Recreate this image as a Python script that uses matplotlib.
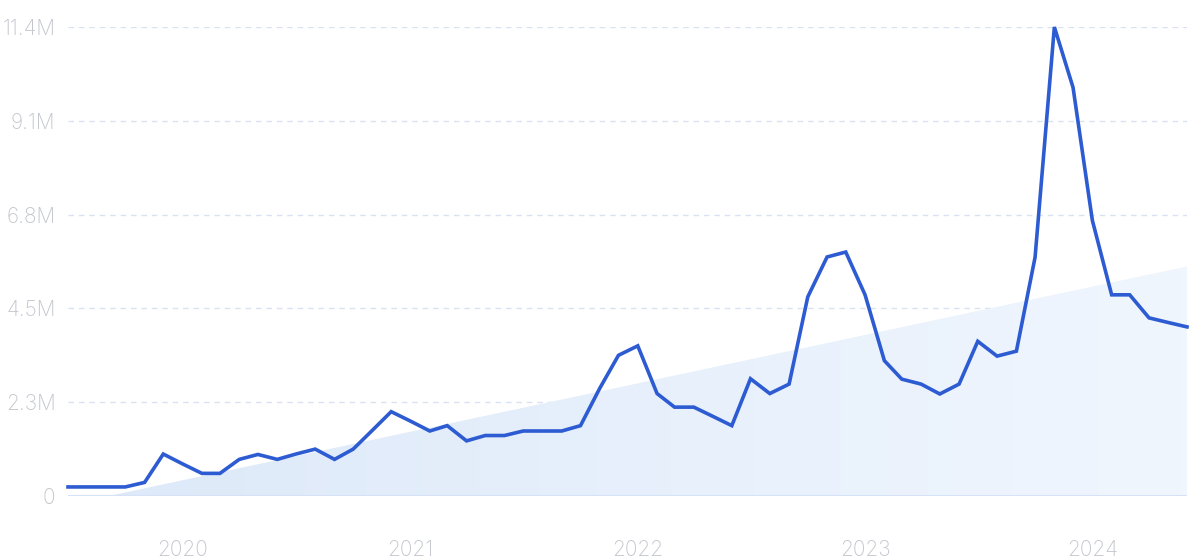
import numpy as np
import pandas as pd
import matplotlib
matplotlib.use("Agg")
import matplotlib.pyplot as plt
import matplotlib.dates as mdates
from matplotlib.colors import LinearSegmentedColormap

# ---- data (monthly, Jul 2019 - Jun 2024), values in millions ----
months = pd.date_range("2019-07-01", periods=60, freq="MS")
values_m = [
    0.22, 0.22, 0.22, 0.22, 0.33, 1.02, 0.78, 0.55, 0.55, 0.89, 1.01, 0.89,
    1.02, 1.14, 0.89, 1.14, 1.60, 2.05, 1.82, 1.58, 1.71, 1.34, 1.47, 1.47,
    1.58, 1.58, 1.58, 1.71, 2.62, 3.42, 3.65, 2.49, 2.16, 2.16, 1.94, 1.71,
    2.85, 2.49, 2.72, 4.84, 5.81, 5.93, 4.89, 3.29, 2.84, 2.72, 2.48, 2.72,
    3.76, 3.40, 3.52, 5.80, 11.40, 9.93, 6.70, 4.89, 4.89, 4.33, 4.22, 4.11,
]
trend_start_m = -0.21   # trend level at first month
trend_end_m = 5.58      # trend level at last month
y_max_m = 11.4
y_tick_labels = ["0", "2.3M", "4.5M", "6.8M", "9.1M", "11.4M"]
x_tick_labels = ["2020", "2021", "2022", "2023", "2024"]

# ---- figure ----
plt.rcParams["font.family"] = ["Inter", "DejaVu Sans"]
fig = plt.figure(figsize=(12, 5.6), dpi=100)
ax = fig.add_axes([68 / 1200, 1 - 496 / 560, (1187 - 68) / 1200, (496 - 27) / 560])

x = mdates.date2num(months)
y = np.array(values_m)

# trend area with horizontal gradient
tx = np.array([x[0], x[-1]])
ty = np.array([trend_start_m, trend_end_m])
poly = ax.fill_between(tx, 0, ty, color="none", linewidth=0)
cmap = LinearSegmentedColormap.from_list("g", ["#dde9f9", "#f0f6fe"])
grad = np.linspace(0, 1, 256).reshape(1, -1)
im = ax.imshow(grad, extent=[x[0], x[-1], 0, y_max_m], aspect="auto",
               cmap=cmap, origin="lower", zorder=1, interpolation="bilinear")
im.set_clip_path(poly.get_paths()[0], transform=ax.transData)

# grid lines
yticks = np.linspace(0, y_max_m, 6)
for yt in yticks[1:]:
    ax.axhline(yt, color="#d9e2f0", linewidth=1.0, linestyle=(0, (4, 3.5)), zorder=0.5)
ax.axhline(0, color="#d6e2f5", linewidth=1.5, zorder=1.5)

# main line
ax.plot(x, y, color="#2d5bd1", linewidth=2.6, solid_joinstyle="miter",
        zorder=3, clip_on=False)

ax.set_xlim(x[0], x[-1])
ax.set_ylim(0, y_max_m)
ax.set_yticks(yticks)
ax.set_yticklabels(y_tick_labels)
jan_ticks = [mdates.date2num(pd.Timestamp(f"{yr}-01-01")) for yr in x_tick_labels]
ax.set_xticks(jan_ticks)
ax.set_xticklabels(x_tick_labels)

for s in ax.spines.values():
    s.set_visible(False)
ax.tick_params(axis="both", length=0, colors="#c3c6cd", labelsize=15)
ax.tick_params(axis="y", pad=9)
ax.tick_params(axis="x", pad=32)
for lab in ax.get_xticklabels() + ax.get_yticklabels():
    lab.set_fontweight("light")
ax.set_facecolor("white")

fig.savefig("out.png", dpi=100, facecolor="white")
